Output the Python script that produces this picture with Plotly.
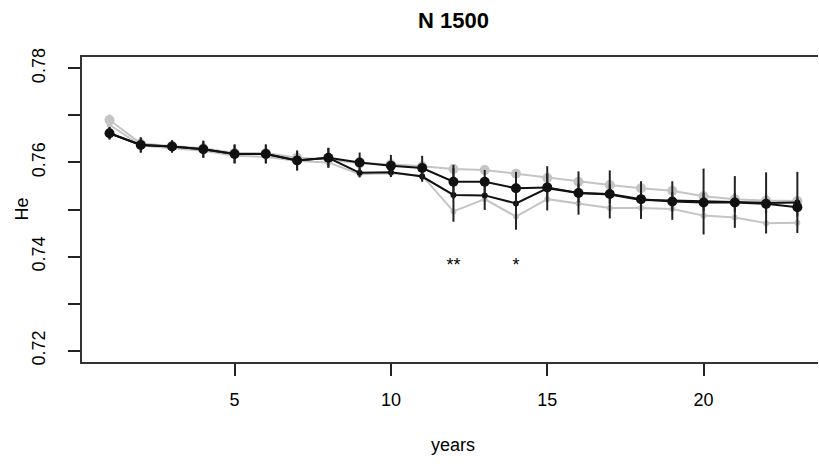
import plotly.graph_objects as go

years = list(range(1, 24))

# black series, large dots
he_a = [0.7662, 0.7637, 0.7634, 0.7628, 0.7618, 0.7618, 0.7604, 0.7610, 0.7600, 0.7593, 0.7588,
        0.7559, 0.7559, 0.7545, 0.7547, 0.7535, 0.7533, 0.7522, 0.7517, 0.7515, 0.7515, 0.7512, 0.7505]
err_a = [0.0013, 0.0016, 0.0013, 0.0018, 0.0020, 0.0020, 0.0021, 0.0021, 0.0021, 0.0023, 0.0026,
         0.0036, 0.0025, 0.0035, 0.0030, 0.0020, 0.0020, 0.0020, 0.0020, 0.0020, 0.0020, 0.0020, 0.0020]
# black series, small dots
he_b = [0.7662, 0.7637, 0.7634, 0.7628, 0.7618, 0.7618, 0.7604, 0.7610, 0.7578, 0.7579, 0.7570,
        0.7531, 0.7530, 0.7513, 0.7545, 0.7535, 0.7532, 0.7520, 0.7519, 0.7517, 0.7516, 0.7514, 0.7515]
err_b = [0.0013, 0.0016, 0.0013, 0.0018, 0.0020, 0.0020, 0.0021, 0.0021, 0.0010, 0.0010, 0.0011,
         0.0057, 0.0031, 0.0056, 0.0047, 0.0046, 0.0051, 0.0040, 0.0041, 0.0070, 0.0055, 0.0065, 0.0065]
# grey series, large dots
he_c = [0.7690, 0.7640, 0.7635, 0.7630, 0.7620, 0.7620, 0.7610, 0.7606, 0.7598, 0.7596, 0.7592,
        0.7586, 0.7584, 0.7576, 0.7567, 0.7559, 0.7552, 0.7545, 0.7540, 0.7528, 0.7522, 0.7519, 0.7518]
err_c = [0.0012, 0.0010, 0.0010, 0.0010, 0.0010, 0.0010, 0.0010, 0.0010, 0.0010, 0.0010, 0.0010,
         0.0010, 0.0010, 0.0010, 0.0010, 0.0010, 0.0010, 0.0010, 0.0010, 0.0010, 0.0010, 0.0010, 0.0010]
# grey series, small dots
he_d = [0.7680, 0.7636, 0.7630, 0.7625, 0.7614, 0.7612, 0.7603, 0.7600, 0.7575, 0.7577, 0.7572,
        0.7496, 0.7522, 0.7485, 0.7522, 0.7513, 0.7503, 0.7503, 0.7501, 0.7487, 0.7483, 0.7471, 0.7472]

sig_years = [12, 14]
sig_labels = ["**", "*"]
sig_he = [0.7378, 0.7378]

y_ticks = [0.72, 0.73, 0.74, 0.75, 0.76, 0.77, 0.78]
y_ticktext = ["0.72", "", "0.74", "", "0.76", "", "0.78"]
x_ticks = [5, 10, 15, 20]

GREY = "#c4c4c4"
BLACK = "#111111"
FONT = "Liberation Sans, Arial, Helvetica, sans-serif"

fig = go.Figure()

fig.add_trace(go.Scatter(
    x=years, y=he_d, mode="lines+markers",
    line=dict(color=GREY, width=2), marker=dict(color=GREY, size=6),
    showlegend=False))
fig.add_trace(go.Scatter(
    x=years, y=he_c, mode="lines+markers",
    line=dict(color=GREY, width=2), marker=dict(color=GREY, size=10),
    error_y=dict(type="data", array=err_c, color=GREY, thickness=2, width=0),
    showlegend=False))
fig.add_trace(go.Scatter(
    x=years, y=he_b, mode="lines+markers",
    line=dict(color=BLACK, width=2), marker=dict(color=BLACK, size=6),
    error_y=dict(type="data", array=err_b, color="#222222", thickness=2, width=0),
    showlegend=False))
fig.add_trace(go.Scatter(
    x=years, y=he_a, mode="lines+markers",
    line=dict(color=BLACK, width=2), marker=dict(color=BLACK, size=10),
    error_y=dict(type="data", array=err_a, color="#222222", thickness=2, width=0),
    showlegend=False))
fig.add_trace(go.Scatter(
    x=sig_years, y=sig_he, mode="text", text=sig_labels,
    textfont=dict(family=FONT, size=18, color="black"),
    textposition="middle center", showlegend=False))

fig.update_layout(
    width=819, height=465,
    margin=dict(l=82, r=1, t=57, b=103),
    paper_bgcolor="white", plot_bgcolor="white",
    font=dict(family=FONT, size=18, color="black"),
    title=dict(text="<b>N 1500</b>", x=(453.5 / 819), xanchor="center",
               y=1 - 20 / 465, yanchor="middle",
               font=dict(family=FONT, size=22, color="black")),
    xaxis=dict(range=[0.12, 23.66], tickvals=x_ticks, ticks="outside", ticklen=12,
               tickwidth=1.5, tickcolor="#222", showline=True, linecolor="#333",
               linewidth=2, mirror=True, showgrid=False, zeroline=False,
               ticklabelstandoff=8, tickfont=dict(size=18)),
    yaxis=dict(range=[0.7176, 0.7824], tickvals=y_ticks, ticktext=y_ticktext,
               ticks="outside", ticklen=12, tickwidth=1.5, tickcolor="#222",
               showline=True, linecolor="#333", linewidth=2, showgrid=False,
               zeroline=False, tickangle=-90, ticklabelstandoff=16,
               tickfont=dict(size=18)),
    annotations=[
        dict(text="years", xref="paper", yref="paper", x=(453.5 - 82) / 736,
             y=-(445 - 362) / 305, xanchor="center", yanchor="middle",
             showarrow=False, font=dict(size=18)),
        dict(text="He", xref="paper", yref="paper", x=-(82 - 21) / 736,
             y=0.5, xanchor="center", yanchor="middle", textangle=-90,
             showarrow=False, font=dict(size=18)),
    ],
)

fig.write_html("out.html")
